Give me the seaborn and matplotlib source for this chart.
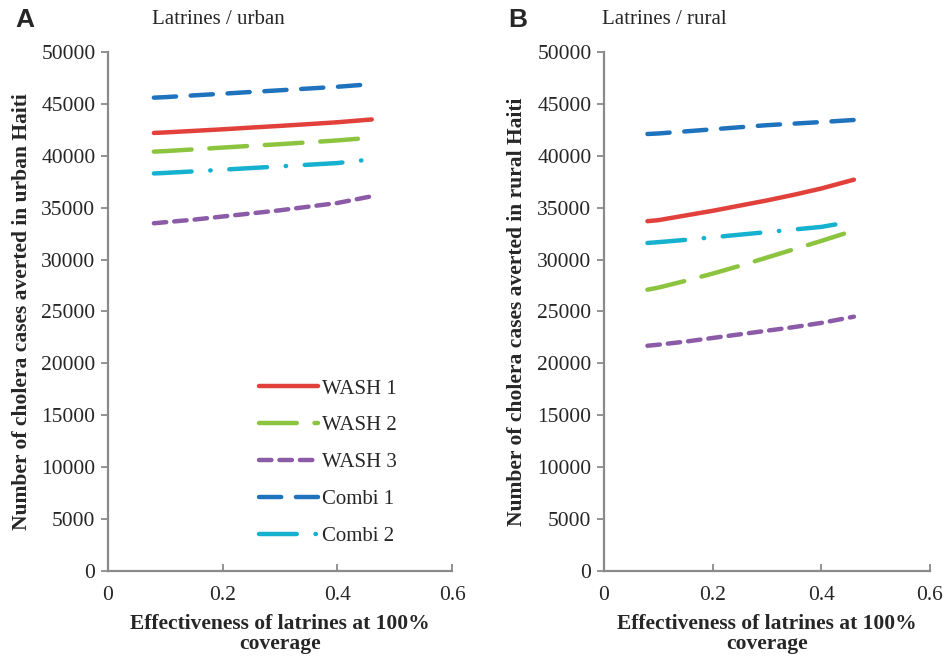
import matplotlib
matplotlib.use("Agg")
import matplotlib.pyplot as plt
import seaborn as sns
import pandas as pd

sns.set_style("white")
plt.rcParams['font.family'] = ['Liberation Serif', 'DejaVu Serif']

series = ["WASH 1", "WASH 2", "WASH 3", "Combi 1", "Combi 2"]
colors = ["#E2403B", "#8CC43F", "#8B5BA8", "#1F73BD", "#16B1CF"]

# effectiveness values (x)
x_full = [0.08, 0.10, 0.15, 0.20, 0.25, 0.30, 0.35, 0.40, 0.46]
x_c2 = [0.08, 0.10, 0.15, 0.20, 0.25, 0.30, 0.35, 0.40, 0.45]

urban_wash1 = [42200, 42250, 42400, 42550, 42720, 42880, 43050, 43230, 43500]
urban_wash2 = [40400, 40450, 40620, 40790, 40960, 41120, 41300, 41480, 41750]
urban_wash3 = [33500, 33600, 33850, 34150, 34450, 34750, 35100, 35450, 36100]
urban_combi1 = [45600, 45650, 45820, 45980, 46150, 46310, 46480, 46650, 46900]
urban_combi2 = [38300, 38350, 38500, 38660, 38820, 38980, 39140, 39300, 39600]

rural_wash1 = [33700, 33800, 34250, 34700, 35200, 35700, 36250, 36850, 37700]
rural_wash2 = [27100, 27300, 27950, 28650, 29400, 30200, 31000, 31800, 32800]
rural_wash3 = [21700, 21800, 22100, 22450, 22800, 23150, 23500, 23900, 24500]
rural_combi1 = [42100, 42150, 42350, 42550, 42750, 42950, 43100, 43250, 43450]
rural_combi2 = [31600, 31680, 31900, 32150, 32400, 32650, 32900, 33150, 33600]

yticks = [0, 5000, 10000, 15000, 20000, 25000, 30000, 35000, 40000, 45000, 50000]
xticks = [0, 0.2, 0.4, 0.6]
xtick_labels = ["0", "0.2", "0.4", "0.6"]

styles = {
    "WASH 1": "-",
    "WASH 2": (0, (8.5, 4.0)),
    "WASH 3": (0, (2.8, 1.8)),
    "Combi 1": (0, (5.0, 3.3)),
    "Combi 2": (0, (8.5, 4.2, 0.1, 4.2)),
}

def make_df(vals):
    rows = []
    for name, v in zip(series, vals):
        xs = x_c2 if name == "Combi 2" else x_full
        for xx, yy in zip(xs, v):
            rows.append({"x": xx, "y": yy, "series": name})
    return pd.DataFrame(rows)

urban_df = make_df([urban_wash1, urban_wash2, urban_wash3, urban_combi1, urban_combi2])
rural_df = make_df([rural_wash1, rural_wash2, rural_wash3, rural_combi1, rural_combi2])

fig = plt.figure(figsize=(9.48, 6.58), dpi=100)
axA = fig.add_axes([0.1139, 0.1322, 0.3629, 0.7888])
axB = fig.add_axes([0.6371, 0.1322, 0.3439, 0.7888])

grey = "#8a8a8a"
panels = [
    (axA, urban_df, "Number of cholera cases averted in urban Haiti", "Latrines / urban", "A",
     0.128, -0.27, -0.22),
    (axB, rural_df, "Number of cholera cases averted in rural Haiti", "Latrines / rural", "B",
     -0.006, -0.294, -0.237),
]
for ax, df, ylabel, title, letter, tx, lx, ylx in panels:
    for name, col in zip(series, colors):
        sub = df[df["series"] == name]
        sns.lineplot(data=sub, x="x", y="y", ax=ax, color=col, linewidth=3.2,
                     linestyle=styles[name], dash_capstyle="round",
                     solid_capstyle="round", legend=False)
    ax.set_xlim(0, 0.6)
    ax.set_ylim(0, 50000)
    ax.set_xticks(xticks)
    ax.set_xticklabels(xtick_labels)
    ax.set_yticks(yticks)
    ax.set_yticklabels([str(t) for t in yticks])
    ax.tick_params(axis="y", labelsize=15.5, direction="out", length=5,
                   width=1.3, color=grey, left=True, pad=4)
    ax.tick_params(axis="x", labelsize=15.5, direction="in", length=5,
                   width=1.3, color=grey, bottom=True, pad=11)
    for s in ["top", "right"]:
        ax.spines[s].set_visible(False)
    for s in ["left", "bottom"]:
        ax.spines[s].set_color(grey)
        ax.spines[s].set_linewidth(1.6)
    ax.set_xlabel("Effectiveness of latrines at 100%\ncoverage", fontsize=15.5,
                  fontweight="bold", linespacing=1.0, labelpad=6)
    ax.set_ylabel(ylabel, fontsize=15.5, fontweight="bold")
    ax.yaxis.set_label_coords(ylx, 0.5)
    ax.text(tx, 1.062, title, transform=ax.transAxes, fontsize=15, va="center", ha="left")
    ax.text(lx, 1.062, letter, transform=ax.transAxes, fontsize=19, va="center",
            ha="left", fontweight="bold", family=["Liberation Sans", "DejaVu Sans"])

axA.legend(handles=axA.get_lines()[:5], labels=series, loc="lower left",
           bbox_to_anchor=(0.398, 0.02), frameon=False, fontsize=15,
           handlelength=2.8, handletextpad=0.2, labelspacing=0.83, borderpad=0.2)

fig.savefig("out.png", dpi=100, facecolor="white")
